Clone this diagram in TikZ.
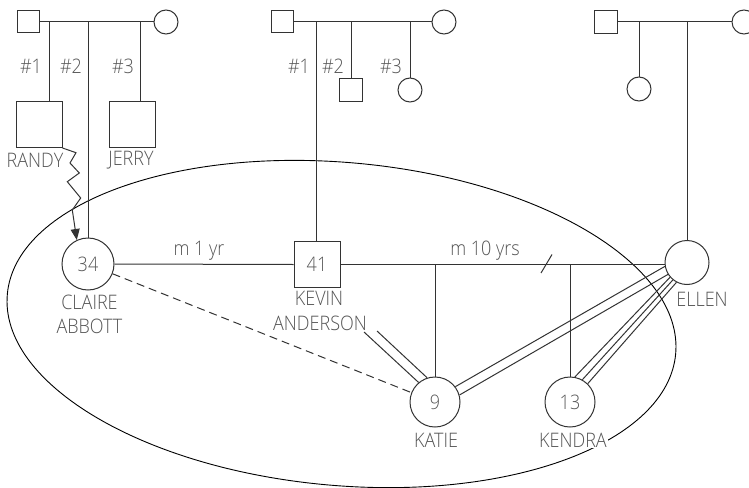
\documentclass[tikz,border=0pt]{standalone}
\usepackage{fontspec}
\setmainfont{Open Sans Light}[FakeStretch=0.9]
\usetikzlibrary{arrows.meta}
\definecolor{lncol}{HTML}{333333}
\definecolor{txcol}{HTML}{555555}
\begin{document}
\begin{tikzpicture}[x=1pt,y=-1pt,
  sq/.style={draw=lncol, line width=1pt, rectangle, minimum size=#1, inner sep=0pt, text=txcol, font=\fontsize{20}{24}\selectfont},
  ci/.style={draw=lncol, line width=1pt, circle, minimum size=#1, inner sep=0pt, text=txcol, font=\fontsize{20}{24}\selectfont},
  lbl/.style={text=txcol, font=\fontsize{20}{24}\selectfont, inner sep=1pt, fill=white},
  lnk/.style={draw=lncol, line width=1pt}
]
\useasboundingbox (0,0) rectangle (749,487);

% ellipse
\draw[black, line width=0.9pt, rotate around={-5.1:(341.5,324)}] (341.5,324) ellipse [x radius=335.5pt, y radius=161.5pt];

% main row
\node[ci=52pt] (claire) at (88,264) {34};
\node[sq=46pt] (kevin) at (317,264.5) {41};
\node[ci=44pt] (ellen) at (687,262.5) {};
\node[ci=50pt] (katie) at (435,402) {9};
\node[ci=50pt] (kendra) at (570,402) {13};

% family 1
\node[sq=22pt] (f1m) at (28,22) {};
\node[ci=24pt] (f1f) at (166,22) {};
\node[sq=46pt] (randy) at (39,124.5) {};
\node[sq=46pt] (jerry) at (132,124.5) {};
\coordinate (f1a) at (49,22);
\coordinate (f1b) at (88,22);
\coordinate (f1c) at (140,22);
\draw[lnk] (f1m.east) -- (f1f.west);
\draw[lnk] (f1a) -- (f1a |- randy.north);
\draw[lnk] (f1c) -- (f1c |- jerry.north);
\draw[lnk] (f1b) -- (claire.north);
\node[lbl] (n11) at (31,66) {\#1};
\node[lbl] (n12) at (71,66) {\#2};
\node[lbl] (n13) at (123,66) {\#3};

% family 2
\node[sq=22pt] (f2m) at (282,22) {};
\node[ci=24pt] (f2f) at (444,22) {};
\node[sq=23pt] (f2s) at (351,89.5) {};
\node[ci=24pt] (f2d) at (410,90) {};
\coordinate (f2a) at (316,22);
\coordinate (f2b) at (351,22);
\coordinate (f2c) at (410,22);
\draw[lnk] (f2m.east) -- (f2f.west);
\draw[lnk] (f2a) -- (f2a |- kevin.north);
\draw[lnk] (f2b) -- (f2s.north);
\draw[lnk] (f2c) -- (f2d.north);
\node[lbl] (n21) at (299,66) {\#1};
\node[lbl] (n22) at (333,66) {\#2};
\node[lbl] (n23) at (391,66) {\#3};

% family 3
\node[sq=23pt] (f3m) at (605.5,22) {};
\node[ci=24pt] (f3f) at (744,22) {};
\node[ci=24pt] (f3d) at (639,89) {};
\coordinate (f3a) at (639,22);
\coordinate (f3b) at (687,22);
\draw[lnk] (f3m.east) -- (f3f.west);
\draw[lnk] (f3a) -- (f3d.north);
\draw[lnk] (f3b) -- (ellen.north);

% marriages and children
\draw[lnk] (claire.east) -- (kevin.west);
\draw[lnk] (kevin.east) -- (kevin.east -| ellen.west);
\coordinate (kat) at (435,264.5);
\coordinate (ken) at (570,264.5);
\draw[lnk] (kat) -- (katie.north);
\draw[lnk] (ken) -- (kendra.north);
\coordinate (s1) at (541,273);
\coordinate (s2) at (552,254.5);
\draw[lnk] (s1) -- (s2);

% relationships
\draw[lnk, dash pattern=on 8pt off 5pt] (claire) -- (katie);
\draw[lnk] (katie.37) -- (ellen.190);
\draw[lnk] (katie.16) -- (ellen.212);
\draw[lnk] (kendra.79) -- (ellen.221);
\draw[lnk] (kendra.61) -- (ellen.231);
\draw[lnk] (kendra.46.5) -- (ellen.242);
\coordinate (a1) at (364,332);
\coordinate (a2) at (377,331);
\draw[lnk] (a1) -- (katie.130);
\draw[lnk] (a2) -- (katie.108);

% zigzag
\draw[lnk, -{Triangle[length=11pt,width=9pt]}] (randy.south east) -- (76,152.7) -- (70,163) -- (79.3,173) -- (67.3,181.7) -- (80.7,198) -- (72.3,210) -- (claire.115);

% labels
\node[lbl] (lrandy) at (35,160) {RANDY};
\node[lbl] (ljerry) at (131,160) {JERRY};
\node[lbl] (m1) at (199,251) {m 1 yr};
\node[lbl] (m10) at (485,251) {m 10 yrs};
\node[lbl] (lcl1) at (89.5,302) {CLAIRE};
\node[lbl] (lcl2) at (89.5,326) {ABBOTT};
\node[lbl] (lkv1) at (319,298) {KEVIN};
\node[lbl] (lkv2) at (320,323) {ANDERSON};
\node[lbl] (lkat) at (436,440) {KATIE};
\node[lbl] (lken) at (573,440) {KENDRA};
\node[lbl] (lel) at (702,299) {ELLEN};
\end{tikzpicture}
\end{document}
